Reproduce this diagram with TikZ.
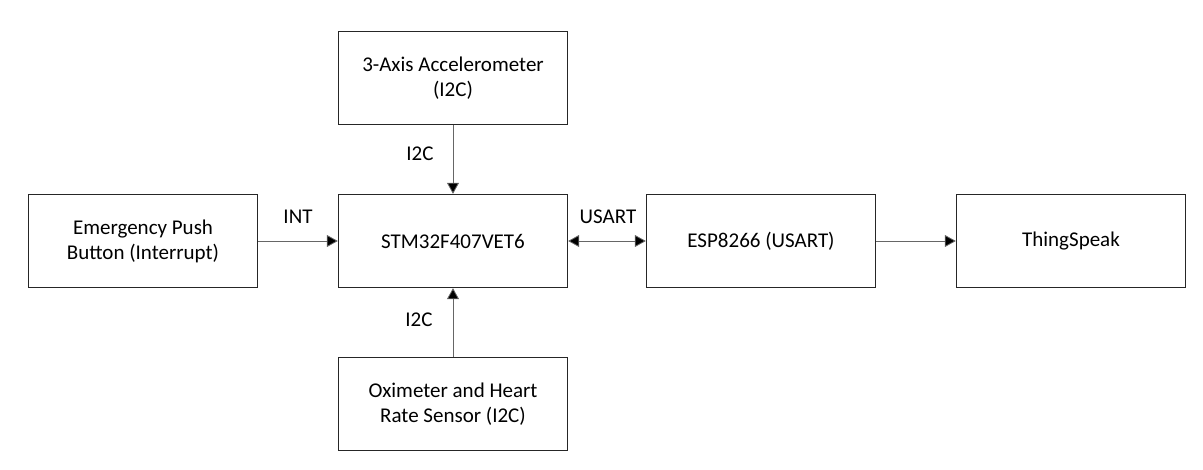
\documentclass[tikz,border=0pt]{standalone}
\usepackage{fontspec}
\setmainfont{Carlito}
\usetikzlibrary{arrows.meta}
\begin{document}
\begin{tikzpicture}[x=1pt,y=-1pt,
  blk/.style={draw=black!85,line width=1.4pt,minimum width=229pt,minimum height=93pt,inner sep=0pt,align=center,font=\fontsize{21}{25}\selectfont},
  conn/.style={draw=black!60,line width=0.8pt},
  tip/.style={-{Triangle[length=11pt,width=12pt,fill=black]}},
  lbl/.style={font=\fontsize{21}{25}\selectfont,inner sep=0pt}]
\useasboundingbox (0,0) rectangle (1203,470);
\node[blk] (acc) at (453,78) {3-Axis Accelerometer\\(I2C)};
\node[blk] (stm) at (453,241) {STM32F407VET6};
\node[blk] (oxi) at (453,404) {Oximeter and Heart\\Rate Sensor (I2C)};
\node[blk] (btn) at (143,241) {Emergency Push\\Button (Interrupt)};
\node[blk] (esp) at (761,241) {ESP8266 (USART)};
\node[blk] (ts) at (1071,241) {ThingSpeak};
\draw[conn,tip] (acc) -- (stm);
\draw[conn,tip] (oxi) -- (stm);
\draw[conn,tip] (btn) -- (stm);
\draw[conn,{Triangle[length=11pt,width=12pt,fill=black]}-{Triangle[length=11pt,width=12pt,fill=black]}] (stm) -- (esp);
\draw[conn,tip] (esp) -- (ts);
\node[lbl] (l1) at (420,154) {I2C};
\node[lbl] (l2) at (419,320) {I2C};
\node[lbl] (l3) at (298,217) {INT};
\node[lbl] (l4) at (608,217) {USART};
\end{tikzpicture}
\end{document}
